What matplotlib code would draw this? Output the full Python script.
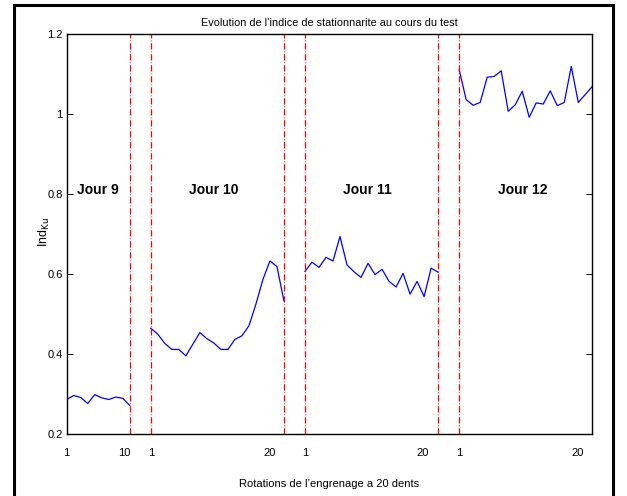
import numpy as np
import matplotlib
matplotlib.use("Agg")
import matplotlib.pyplot as plt
from matplotlib.patches import Rectangle

plt.rcParams['font.family'] = ['Liberation Sans', 'DejaVu Sans']

# Stationarity index per rotation, one series per test day
jour9 = [0.287, 0.297, 0.292, 0.277, 0.299, 0.291, 0.287, 0.293, 0.290, 0.272]
jour10 = [0.465, 0.450, 0.427, 0.412, 0.412, 0.396, 0.425, 0.454, 0.439, 0.428,
          0.412, 0.412, 0.437, 0.446, 0.471, 0.525, 0.587, 0.633, 0.619, 0.533]
jour11 = [0.607, 0.630, 0.617, 0.642, 0.633, 0.694, 0.623, 0.606, 0.592, 0.627,
          0.599, 0.612, 0.582, 0.568, 0.602, 0.550, 0.582, 0.544, 0.615, 0.605]
jour12 = [1.111, 1.036, 1.022, 1.029, 1.092, 1.094, 1.108, 1.007, 1.023, 1.057,
          0.992, 1.028, 1.025, 1.058, 1.021, 1.029, 1.119, 1.029, 1.049, 1.069]

day_names = ["Jour 9", "Jour 10", "Jour 11", "Jour 12"]
tick_labels = ["1", "10", "1", "20", "1", "20", "1", "20"]
yticks = [0.2, 0.4, 0.6, 0.8, 1.0, 1.2]
ytick_labels = ["0.2", "0.4", "0.6", "0.8", "1", "1.2"]

series = [jour9, jour10, jour11, jour12]
starts = [1, 13, 35, 57]                 # first rotation index of each day
tick_pos = [1, 9.2, 13, 29.9, 35, 51.8, 57, 73.9]
label_x = [5.5, 22.0, 43.9, 66.0]

fig = plt.figure(figsize=(6.27, 4.96), dpi=100)
ax = fig.add_axes([66.7 / 627, 1 - 434.3 / 496, (592.3 - 66.7) / 627, (434.3 - 34) / 496])

for s, vals in zip(starts, series):
    x = s + np.arange(len(vals))
    ax.plot(x, vals, color=(0, 0, 1), lw=0.9, clip_on=True)

# day separators at the end of one day and the start of the next
for s, vals in zip(starts, series):
    for xv in (s, s + len(vals) - 1):
        if xv in (1, 76):
            continue
        ax.axvline(xv, color=(1, 0, 0), lw=0.9, dashes=(5, 1.6, 0.6, 1.6))

for lx, name in zip(label_x, day_names):
    ax.text(lx, 0.81, name, ha='center', va='center', fontsize=10, fontweight='bold')

ax.set_xlim(1, 76)
ax.set_ylim(0.2, 1.2)
ax.set_xticks(tick_pos)
ax.set_xticklabels(tick_labels, fontsize=8)
ax.set_yticks(yticks)
ax.set_yticklabels(ytick_labels, fontsize=8)
ax.tick_params(axis='x', length=0, pad=10)
ax.tick_params(axis='y', direction='in', length=4.5, width=0.7, right=True, pad=3)
for sp in ax.spines.values():
    sp.set_linewidth(1.0)

ax.set_title("Evolution de l\u2019indice de stationnarite au cours du test", fontsize=7.8, pad=5.5)
ax.set_xlabel("Rotations de l\u2019engrenage a 20 dents", fontsize=8, labelpad=15)
ax.set_ylabel(r"Ind$_{\mathrm{Ku}}$", fontsize=9)
ax.yaxis.set_label_coords(-0.028, 0.505)

# outer frame around the figure
fig.patches.append(Rectangle((13.5 / 627, -0.05), (613 - 13.5) / 627, 1.05 - 4.7 / 496,
                             transform=fig.transFigure, fill=False, ec='black', lw=2.2))

fig.savefig("out.png", dpi=100)
